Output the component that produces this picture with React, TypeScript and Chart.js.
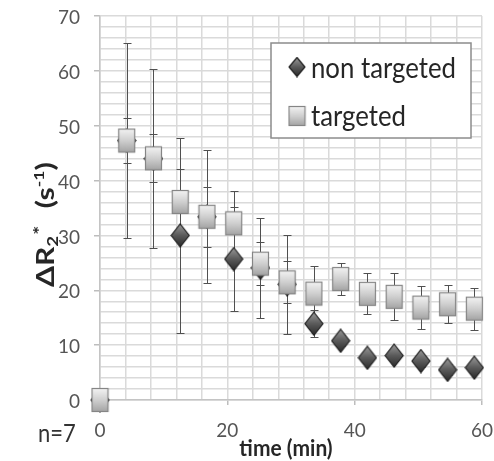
import React, { useEffect, useRef } from "react";
import { Chart, registerables } from "chart.js";

Chart.register(...registerables);

const times = [0, 4.2, 8.4, 12.6, 16.8, 21, 25.2, 29.4, 33.6, 37.8, 42, 46.2, 50.4, 54.6, 58.8];
const nonTargeted = [0, 47.3, 44, 30, 33.4, 25.7, 24.1, 21.1, 13.9, 10.8, 7.7, 8.1, 7.1, 5.5, 5.9];
const nonTargetedErr = [0, 17.7, 16.3, 17.8, 12.1, 9.4, 9.1, 9.0, 2.5, 1, 1, 1, 1, 1, 1];
const targeted = [0, 47.3, 44.05, 36.1, 33.4, 32.2, 24.85, 21.45, 19.4, 22.05, 19.35, 18.8, 16.85, 17.45, 16.65];
const targetedErr = [0, 4.1, 4.35, 6, 5.5, 5.9, 3.95, 3.85, 5, 2.85, 3.75, 4.3, 3.85, 3.45, 3.85];

const seriesNames = ["non targeted", "targeted"];
const xTickLabels = [0, 20, 40, 60];
const yTickLabels = [0, 10, 20, 30, 40, 50, 60, 70];

const FONT = "Lato, 'Open Sans', sans-serif";

function makeSquare(w: number, h: number): HTMLCanvasElement {
  const c = document.createElement("canvas");
  c.width = w + 2;
  c.height = h + 2;
  const g = c.getContext("2d")!;
  const grad = g.createLinearGradient(0, 1, 0, h + 1);
  grad.addColorStop(0, "#f4f4f4");
  grad.addColorStop(0.5, "#cfcfcf");
  grad.addColorStop(1, "#a2a2a2");
  g.fillStyle = grad;
  g.fillRect(1, 1, w, h);
  g.strokeStyle = "#858585";
  g.lineWidth = 1.2;
  g.strokeRect(1.5, 1.5, w - 1, h - 1);
  return c;
}

function makeDiamond(w: number, h: number): HTMLCanvasElement {
  const c = document.createElement("canvas");
  c.width = w + 2;
  c.height = h + 2;
  const g = c.getContext("2d")!;
  const cx = (w + 2) / 2;
  const cy = (h + 2) / 2;
  g.beginPath();
  g.moveTo(cx, 1);
  g.lineTo(w + 1, cy);
  g.lineTo(cx, h + 1);
  g.lineTo(1, cy);
  g.closePath();
  const grad = g.createLinearGradient(0, 1, 0, h + 1);
  grad.addColorStop(0, "#9a9a9a");
  grad.addColorStop(0.5, "#5a5a5a");
  grad.addColorStop(1, "#2a2a2a");
  g.fillStyle = grad;
  g.fill();
  g.strokeStyle = "#1e1e1e";
  g.lineWidth = 1.2;
  g.stroke();
  return c;
}

const errorBarPlugin = {
  id: "errorBars",
  beforeDatasetsDraw(chart: any) {
    const { ctx } = chart;
    const xs = chart.scales.x;
    const ys = chart.scales.y;
    ctx.save();
    ctx.strokeStyle = "#505050";
    ctx.lineWidth = 1;
    chart.data.datasets.forEach((ds: any) => {
      const errs: number[] = ds.errorBars || [];
      ds.data.forEach((p: any, i: number) => {
        const e = errs[i];
        if (!e) return;
        const px = Math.round(xs.getPixelForValue(p.x)) + 0.5;
        const top = Math.round(ys.getPixelForValue(p.y + e)) + 0.5;
        const bot = Math.round(ys.getPixelForValue(p.y - e)) + 0.5;
        ctx.beginPath();
        ctx.moveTo(px, top);
        ctx.lineTo(px, bot);
        ctx.moveTo(px - 4, top);
        ctx.lineTo(px + 4, top);
        ctx.moveTo(px - 4, bot);
        ctx.lineTo(px + 4, bot);
        ctx.stroke();
      });
    });
    ctx.restore();
  },
};

function stretchedText(ctx: CanvasRenderingContext2D, text: string, x: number, y: number, sx: number, sy: number) {
  ctx.save();
  ctx.translate(x, y);
  ctx.scale(sx, sy);
  ctx.fillText(text, 0, 0);
  ctx.restore();
}

export default function App() {
  const ref = useRef<HTMLCanvasElement>(null);

  useEffect(() => {
    const canvas = ref.current!;
    const squareImg = makeSquare(17, 24);
    const diamondImg = makeDiamond(18, 23);
    const squareLegend = makeSquare(17, 20);
    const diamondLegend = makeDiamond(16, 19);

    const textPlugin = {
      id: "texts",
      afterDraw(chart: any) {
        const ctx: CanvasRenderingContext2D = chart.ctx;
        ctx.save();
        // Legend box
        ctx.fillStyle = "#ffffff";
        ctx.fillRect(271, 43, 200, 95);
        ctx.strokeStyle = "#8c8c8c";
        ctx.lineWidth = 1.5;
        ctx.strokeRect(271, 43, 200, 95);
        ctx.drawImage(diamondLegend, 297 - diamondLegend.width / 2, 67 - diamondLegend.height / 2);
        ctx.drawImage(squareLegend, 297 - squareLegend.width / 2, 116 - squareLegend.height / 2);
        ctx.fillStyle = "#262626";
        ctx.textBaseline = "alphabetic";
        ctx.textAlign = "left";
        ctx.font = `23px ${FONT}`;
        stretchedText(ctx, seriesNames[0], 311, 78, 1.12, 1.25);
        stretchedText(ctx, seriesNames[1], 311, 126, 1.12, 1.25);

        // n=7
        ctx.fillStyle = "#333333";
        ctx.font = `22px ${FONT}`;
        stretchedText(ctx, "n=7", 38, 442, 1, 1.15);

        // x title
        ctx.fillStyle = "#262626";
        ctx.font = `bold 20px ${FONT}`;
        ctx.textAlign = "center";
        stretchedText(ctx, "time (min)", 286, 456, 1.05, 1.15);

        // y title (rotated)
        ctx.textAlign = "left";
        ctx.translate(54, 287);
        ctx.rotate(-Math.PI / 2);
        ctx.scale(1.25, 1);
        let cx = 0;
        ctx.font = `bold 24px ${FONT}`;
        ctx.fillText("ΔR", cx, 0);
        cx += ctx.measureText("ΔR").width;
        ctx.font = `bold 15px ${FONT}`;
        ctx.fillText("2", cx, 4);
        cx += ctx.measureText("2").width + 1;
        ctx.font = `bold 17px ${FONT}`;
        ctx.fillText("*", cx, -8);
        cx += ctx.measureText("*").width + 14;
        ctx.font = `bold 24px ${FONT}`;
        ctx.fillText("(s", cx, 0);
        cx += ctx.measureText("(s").width;
        ctx.font = `bold 14px ${FONT}`;
        ctx.fillText("-1", cx, -10);
        cx += ctx.measureText("-1").width;
        ctx.font = `bold 24px ${FONT}`;
        ctx.fillText(")", cx, 0);
        ctx.restore();
      },
    };

    const chart = new Chart(canvas, {
      type: "scatter",
      data: {
        datasets: [
          {
            label: seriesNames[0],
            data: times.map((t, i) => ({ x: t, y: nonTargeted[i] })),
            pointStyle: diamondImg as any,
            pointRadius: 10,
            showLine: false,
            clip: false as any,
            order: 1,
            errorBars: nonTargetedErr,
          } as any,
          {
            label: seriesNames[1],
            data: times.map((t, i) => ({ x: t, y: targeted[i] })),
            pointStyle: squareImg as any,
            pointRadius: 10,
            showLine: false,
            clip: false as any,
            order: 0,
            errorBars: targetedErr,
          } as any,
        ],
      },
      options: {
        responsive: false,
        animation: false,
        devicePixelRatio: 1,
        layout: { padding: { top: 16, right: 12, left: 0, bottom: 0 } },
        plugins: {
          legend: { display: false },
          tooltip: { enabled: false },
        },
        scales: {
          x: {
            type: "linear",
            min: 0,
            max: 60,
            afterFit: (s: any) => {
              s.height = 61;
              s.paddingLeft = 0;
              s.paddingRight = 0;
            },
            ticks: {
              stepSize: 4,
              autoSkip: false,
              maxRotation: 0,
              padding: 14,
              color: "#555555",
              font: { family: FONT, size: 19 },
              callback: (v: any) => (xTickLabels.includes(Number(v)) ? String(v) : ""),
            },
            grid: {
              color: "#dadada",
              lineWidth: 1.5,
              tickLength: 5,
              tickColor: (c: any) =>
                c.tick && xTickLabels.includes(c.tick.value) && c.tick.value !== 0 ? "#bdbdbd" : "rgba(0,0,0,0)",
            },
            border: { color: "#c4c4c4", width: 1.5 },
          },
          y: {
            type: "linear",
            min: 0,
            max: 70,
            afterFit: (s: any) => {
              s.width = 100;
              s.paddingTop = 0;
              s.paddingBottom = 0;
            },
            ticks: {
              stepSize: 2,
              autoSkip: false,
              padding: 14,
              labelOffset: 2,
              color: "#555555",
              font: { family: FONT, size: 19 },
              callback: (v: any) => (yTickLabels.includes(Number(v)) ? String(v) : ""),
            },
            grid: {
              color: "#dadada",
              lineWidth: 1.5,
              tickLength: 6,
              tickColor: (c: any) =>
                c.tick && yTickLabels.includes(c.tick.value) ? "#bdbdbd" : "rgba(0,0,0,0)",
            },
            border: { color: "#c4c4c4", width: 1.5 },
          },
        },
      },
      plugins: [errorBarPlugin, textPlugin],
    } as any);

    return () => chart.destroy();
  }, []);

  return (
    <div style={{ position: "absolute", left: 0, top: 0, width: 494, height: 461, background: "#fff" }}>
      <canvas ref={ref} width={494} height={461} style={{ display: "block", width: 494, height: 461 }} />
    </div>
  );
}
